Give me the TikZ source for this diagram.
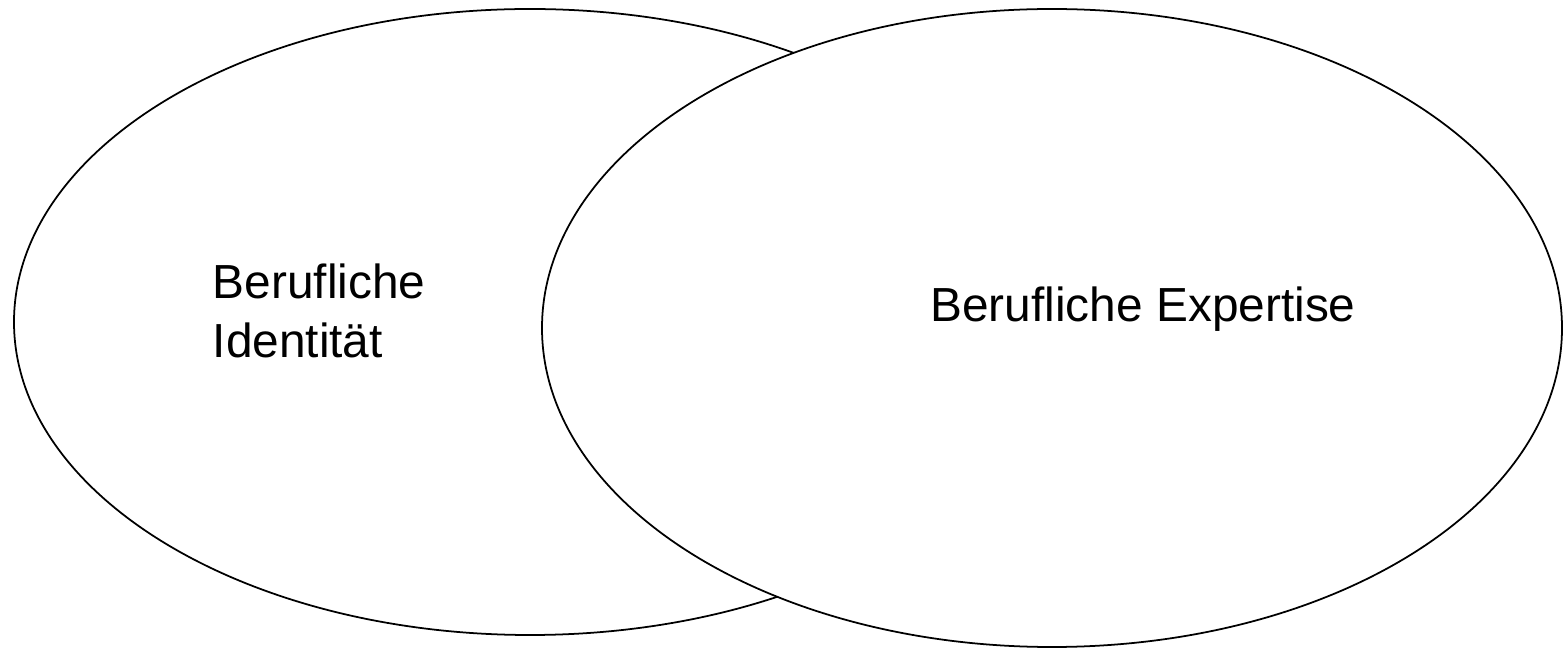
\documentclass[tikz,border=0pt]{standalone}
\usepackage{fontspec}
\setmainfont{Liberation Sans}
\usetikzlibrary{positioning}

\begin{document}
\begin{tikzpicture}[x=0.01cm,y=-0.01cm]
      \useasboundingbox (0,0) rectangle (1563,649);
      \tikzset{circ/.style={draw=black,line width=0.5pt,fill=white},
               lbl/.style={inner sep=0pt,font=\fontsize{13.6}{17}\selectfont}}
      % left ellipse first, right one covers it
      \draw[circ] (530,322) ellipse (516 and 313);
      \draw[circ] (1052,328) ellipse (510 and 319);
      \node[lbl,anchor=base west,align=left] (ident) at (212,358) {Berufliche\\Identität};
      \node[lbl,anchor=base] (exp) at (1143,322) {Berufliche Expertise};
\end{tikzpicture}
\end{document}
